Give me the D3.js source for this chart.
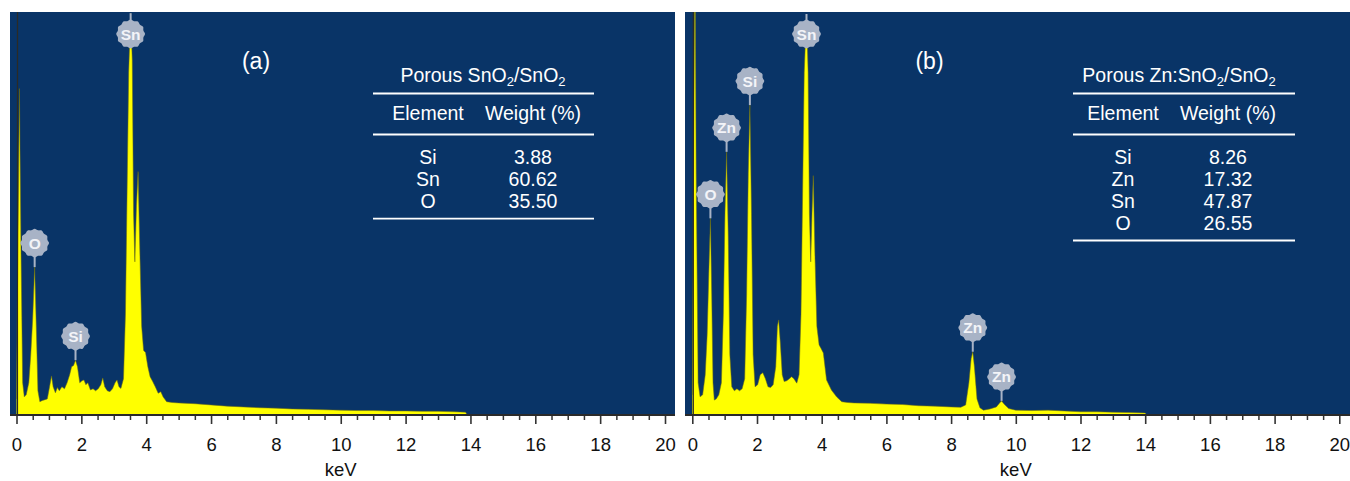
<!DOCTYPE html>
<html>
<head>
<meta charset="utf-8">
<script src="https://cdn.jsdelivr.net/npm/d3@7"></script>
<style>
  html, body { margin: 0; padding: 0; background: #ffffff; }
  svg { display: block; font-family: "Liberation Sans", Arial, Helvetica, sans-serif; }
</style>
</head>
<body>
<svg id="chart" width="1350" height="481"></svg>
<script>
// ---- EDS spectrum (a): porous SnO2/SnO2 ----
const keVA = [0.00, 0.04, 0.09, 0.14, 0.19, 0.24, 0.30, 0.38, 0.44, 0.50, 0.56, 0.61, 0.66, 0.72, 0.80, 0.88, 0.95,
  1.02, 1.08, 1.13, 1.20, 1.26, 1.32, 1.40, 1.48, 1.56, 1.64, 1.70, 1.76, 1.82, 1.88, 1.95, 2.02, 2.08, 2.14, 2.20,
  2.28, 2.36, 2.44, 2.52, 2.60, 2.66, 2.72, 2.80, 2.88, 2.96, 3.04, 3.10, 3.16, 3.22, 3.30, 3.36, 3.41, 3.46, 3.52,
  3.57, 3.61, 3.65, 3.70, 3.75, 3.80, 3.86, 3.92, 3.98, 4.05, 4.12, 4.20, 4.28, 4.37, 4.45, 4.52, 4.63, 4.80, 5.00,
  5.50, 6.00, 6.50, 7.00, 7.50, 8.00, 8.50, 9.00, 9.50, 10.0, 10.5, 11.0, 11.5, 12.0, 12.5, 13.0, 13.5, 13.85, 13.9];
const countsA = [4, 40, 81, 40, 8, 4.5, 5, 8, 15, 24, 36.7, 22, 6, 3.3, 3.6, 3.8, 4,
  7, 9.7, 7, 5.5, 6.8, 6, 7, 6.5, 8, 10, 12, 12.3, 13.6, 12, 8, 8.5, 8.7, 7.5, 8,
  6.2, 6.5, 6, 6.5, 7.5, 9.2, 7, 6, 5.8, 6.5, 8, 8.7, 7, 6.6, 9, 25, 55, 85, 99.7,
  88, 50, 38, 52, 60.4, 42, 22, 16, 15.5, 12, 9.5, 8.3, 7, 5.4, 5.8, 4.5, 3.3, 3.1, 3.0,
  2.8, 2.5, 2.2, 2.0, 1.8, 1.7, 1.5, 1.4, 1.3, 1.2, 1.1, 1.1, 1.0, 1.0, 0.9, 0.9, 0.8, 0.7, 0];

// ---- EDS spectrum (b): porous Zn:SnO2/SnO2 ----
const keVB = [0.00, 0.04, 0.08, 0.12, 0.18, 0.24, 0.32, 0.40, 0.46, 0.51, 0.56, 0.60, 0.64, 0.68, 0.74, 0.82, 0.90,
  0.96, 1.01, 1.06, 1.11, 1.16, 1.22, 1.30, 1.38, 1.46, 1.54, 1.62, 1.68, 1.73, 1.78, 1.83, 1.88, 1.94, 2.02, 2.10,
  2.18, 2.26, 2.34, 2.42, 2.50, 2.58, 2.63, 2.67, 2.72, 2.78, 2.84, 2.92, 3.00, 3.07, 3.14, 3.23, 3.30, 3.36, 3.41,
  3.46, 3.53, 3.58, 3.62, 3.66, 3.70, 3.74, 3.79, 3.85, 3.92, 3.98, 4.05, 4.15, 4.30, 4.46, 4.62, 4.80, 5.00, 5.50,
  6.00, 6.50, 7.00, 7.50, 8.00, 8.30, 8.45, 8.55, 8.62, 8.67, 8.72, 8.80, 8.89, 9.00, 9.20, 9.40, 9.50, 9.56, 9.65,
  9.78, 10.0, 10.5, 11.0, 11.5, 12.0, 12.5, 13.0, 13.5, 14.0, 14.05];
const countsB = [5, 60, 120, 60, 8, 4.5, 5, 10, 20, 35, 48.8, 30, 8, 3.7, 4, 5, 8,
  25, 50, 65.3, 45, 15, 7, 6, 6.5, 6, 6.5, 9, 30, 60, 76.9, 50, 15, 7, 7.5, 10,
  10.5, 9, 7, 6.8, 7.5, 12, 22, 23.6, 18, 10, 8.3, 8.5, 9, 9.5, 9, 7.9, 10, 25, 55,
  85, 99.5, 85, 50, 38, 50, 59.4, 40, 22, 17.4, 16.5, 15.4, 8.7, 6.2, 4.5, 3.3, 3.1, 3.0, 2.9,
  2.7, 2.6, 2.3, 2.2, 2.0, 1.9, 2.5, 8, 14, 15.7, 12, 4, 1.8, 1.2, 1.5, 2.0, 3.0, 3.5, 2.6,
  1.6, 1.2, 1.1, 1.2, 1.0, 0.8, 0.8, 0.7, 0.6, 0.5, 0];

// ---- peak markers ----
const peakElemsA = ["O", "Si", "Sn"];
const peakKeVA = [0.56, 1.82, 3.52];
const peakElemsB = ["O", "Zn", "Si", "Sn", "Zn", "Zn"];
const peakKeVB = [0.56, 1.06, 1.78, 3.53, 8.67, 9.56];

// ---- composition tables ----
const tableTitleA = ["Porous SnO", "2", "/SnO", "2"];
const elementsA = ["Si", "Sn", "O"];
const weightsA = ["3.88", "60.62", "35.50"];
const tableTitleB = ["Porous Zn:SnO", "2", "/SnO", "2"];
const elementsB = ["Si", "Zn", "Sn", "O"];
const weightsB = ["8.26", "17.32", "47.87", "26.55"];

// ---- axis ----
const majorTicks = [0, 2, 4, 6, 8, 10, 12, 14, 16, 18, 20];
const minorTicks = d3.range(0, 20.01, 0.5).filter(v => v % 2 !== 0);
const axisTitle = "keV";
const panelTags = ["(a)", "(b)"];

const svg = d3.select("#chart");
const BG = "#093467";
const FILL = "#ffff00";
const BADGE = "#a8b3c6";

const panels = [
  { id: "a", bgX0: 10, bgX1: 675, ax0: 16.5, ax1: 665, keV: keVA, counts: countsA,
    elems: peakElemsA, peaks: peakKeVA, title: tableTitleA, elements: elementsA, weights: weightsA,
    tag: panelTags[0], tagX: 256, tbl: { x0: 373, x1: 594, c1: 428, c2: 533, ct: 483 } },
  { id: "b", bgX0: 685, bgX1: 1350, ax0: 692.3, ax1: 1339.3, keV: keVB, counts: countsB,
    elems: peakElemsB, peaks: peakKeVB, title: tableTitleB, elements: elementsB, weights: weightsB,
    tag: panelTags[1], tagX: 929.5, tbl: { x0: 1073, x1: 1295, c1: 1123, c2: 1228, ct: 1179 } }
];

const plotTop = 12, plotBottom = 415;
const y = d3.scaleLinear().domain([0, 100]).range([plotBottom, plotTop]);

// scalloped badge outline
function badgePath(r) {
  const n = 24;
  const pts = d3.range(n).map(i => {
    const a = (i / n) * Math.PI * 2;
    const rr = r + (i % 2 === 0 ? 0.9 : -0.3);
    return [Math.cos(a) * rr, Math.sin(a) * rr];
  });
  return d3.line().curve(d3.curveCardinalClosed)(pts);
}

panels.forEach(p => {
  const x = d3.scaleLinear().domain([0, 20]).range([p.ax0, p.ax1]);
  const g = svg.append("g");

  // plot background
  g.append("rect").attr("x", p.bgX0).attr("y", plotTop)
    .attr("width", p.bgX1 - p.bgX0).attr("height", plotBottom - plotTop).attr("fill", BG);

  const clipId = "clip-" + p.id;
  svg.append("clipPath").attr("id", clipId).append("rect")
    .attr("x", p.bgX0).attr("y", plotTop).attr("width", p.bgX1 - p.bgX0).attr("height", plotBottom - plotTop);

  const data = p.keV.map((k, i) => [k, p.counts[i]]);
  const area = d3.area().x(d => x(d[0])).y0(y(0)).y1(d => y(d[1]));
  const line = d3.line().x(d => x(d[0])).y(d => y(d[1]));

  const spec = g.append("g").attr("clip-path", `url(#${clipId})`);
  spec.append("path").datum(data).attr("d", area).attr("fill", FILL);
  spec.append("path").datum(data).attr("d", line).attr("fill", "none")
    .attr("stroke", "#6d6d12").attr("stroke-width", 0.7).attr("stroke-opacity", 0.75);

  // vertical zero line
  spec.append("line").attr("x1", x(0) + 1).attr("x2", x(0) + 1)
    .attr("y1", plotTop).attr("y2", plotBottom)
    .attr("stroke", "#2b2b25").attr("stroke-width", 1.2);

  // peak badges
  p.elems.forEach((el, i) => {
    const k = p.peaks[i];
    const idx = d3.minIndex(p.keV, v => Math.abs(v - k));
    const val = p.counts[idx];
    const py = y(val);
    const by = Math.max(py - 24, 34);
    const bx = x(p.keV[idx]);
    const bg = g.append("g");
    bg.append("line").attr("x1", bx).attr("x2", bx).attr("y1", by).attr("y2", py)
      .attr("stroke", BADGE).attr("stroke-width", 2);
    bg.append("path").attr("d", badgePath(13.5)).attr("transform", `translate(${bx},${by})`)
      .attr("fill", BADGE);
    bg.append("text").attr("x", bx).attr("y", by).attr("dy", "0.36em")
      .attr("text-anchor", "middle").attr("font-size", 15.5).attr("font-weight", "bold")
      .attr("fill", "#f3f4f8").text(el);
  });

  // x axis: minor ticks
  g.append("g").attr("transform", `translate(0,${plotBottom})`)
    .call(d3.axisBottom(x).tickValues(minorTicks).tickSize(5).tickFormat(""))
    .call(a => a.select(".domain").remove())
    .call(a => a.selectAll("line").attr("stroke", "#333").attr("stroke-width", 1.5));
  // x axis: major ticks with labels
  g.append("g").attr("transform", `translate(0,${plotBottom})`)
    .call(d3.axisBottom(x).tickValues(majorTicks).tickSize(9).tickPadding(14).tickFormat(d3.format("d")))
    .call(a => a.select(".domain").remove())
    .call(a => a.selectAll("line").attr("stroke", "#333").attr("stroke-width", 1.6))
    .call(a => a.selectAll("text").attr("font-size", 18.5).attr("fill", "#111")
      .attr("font-family", "'Liberation Sans', Arial, sans-serif"));
  g.append("line").attr("x1", p.bgX0).attr("x2", p.bgX1).attr("y1", plotBottom).attr("y2", plotBottom)
    .attr("stroke", "#2a2a2a").attr("stroke-width", 2);

  g.append("text").attr("x", (p.ax0 + p.ax1) / 2).attr("y", 476).attr("text-anchor", "middle")
    .attr("font-size", 18.5).attr("fill", "#111").text(axisTitle);

  // panel tag
  g.append("text").attr("x", p.tagX).attr("y", 69).attr("text-anchor", "middle")
    .attr("font-size", 23).attr("fill", "#ffffff").text(p.tag);

  // composition table
  const t = p.tbl;
  const FS = 19.5;
  const tg = g.append("g").attr("fill", "#ffffff").attr("font-size", FS);
  const title = tg.append("text").attr("x", t.ct).attr("y", 82).attr("text-anchor", "middle");
  p.title.forEach((s, i) => {
    const sub = i % 2 === 1;
    title.append("tspan").attr("font-size", sub ? 13 : FS)
      .attr("dy", sub ? 4 : (i > 0 ? -4 : 0)).text(s);
  });
  const hline = yy => tg.append("line").attr("x1", t.x0).attr("x2", t.x1).attr("y1", yy).attr("y2", yy)
    .attr("stroke", "#ffffff").attr("stroke-width", 1.8);
  hline(93.5);
  tg.append("text").attr("x", t.c1).attr("y", 120).attr("text-anchor", "middle").text("Element");
  tg.append("text").attr("x", t.c2).attr("y", 120).attr("text-anchor", "middle").text("Weight (%)");
  hline(134.5);
  p.elements.forEach((el, i) => {
    const yy = 164.3 + i * 21.9;
    tg.append("text").attr("x", t.c1).attr("y", yy).attr("text-anchor", "middle").text(el);
    tg.append("text").attr("x", t.c2).attr("y", yy).attr("text-anchor", "middle").text(p.weights[i]);
  });
  hline(164.3 + (p.elements.length - 1) * 21.9 + 10.5);
});
</script>
</body>
</html>
